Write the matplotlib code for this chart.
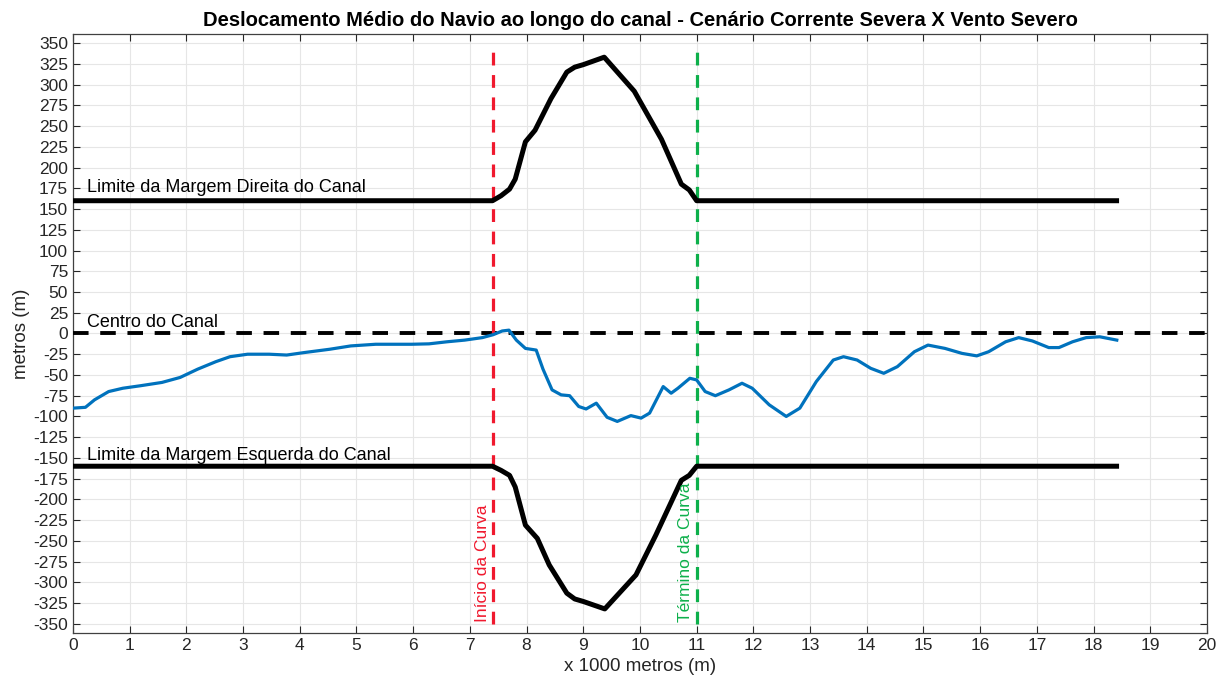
import numpy as np
import matplotlib.pyplot as plt

plt.rcParams['font.family'] = ['Liberation Sans', 'DejaVu Sans']
plt.rcParams['axes.unicode_minus'] = False

# --- data ---
x_curve_start = 7.4
x_curve_end = 11.0

# right bank (upper channel limit), x in thousands of metres
upper_x = [0.0, 7.4, 7.55, 7.7, 7.8, 7.98, 8.15, 8.43, 8.71, 8.85, 9.0, 9.37,
           9.9, 10.38, 10.73, 10.87, 11.0, 18.45]
upper_y = [160, 160, 166, 174, 186, 231, 245, 283, 315, 321, 324, 333,
           292, 234, 180, 173, 160, 160]

# left bank (lower channel limit)
lower_x = [0.0, 7.4, 7.55, 7.7, 7.8, 7.98, 8.19, 8.4, 8.71, 8.85, 9.0, 9.38,
           9.93, 10.28, 10.73, 10.87, 11.0, 18.45]
lower_y = [-160, -160, -165, -171, -185, -231, -247, -279, -313, -320, -323, -332,
           -291, -243, -177, -171, -160, -160]

# mean ship displacement
ship_x = [0.0, 0.22, 0.38, 0.63, 0.88, 1.19, 1.57, 1.89, 2.2, 2.52, 2.77, 3.08,
          3.46, 3.77, 4.08, 4.53, 4.9, 5.34, 5.97, 6.28, 6.6, 6.91, 7.22, 7.41,
          7.57, 7.69, 7.82, 7.98, 8.17, 8.29, 8.45, 8.61, 8.76, 8.92, 9.05, 9.23,
          9.42, 9.6, 9.84, 10.02, 10.17, 10.41, 10.55, 10.67, 10.88, 11.0, 11.15,
          11.33, 11.57, 11.8, 11.98, 12.28, 12.58, 12.82, 13.11, 13.41, 13.59,
          13.83, 14.07, 14.3, 14.54, 14.84, 15.08, 15.38, 15.68, 15.94, 16.15,
          16.45, 16.68, 16.92, 17.21, 17.39, 17.63, 17.87, 18.11, 18.41]
ship_y = [-90, -89, -80, -70, -66, -63, -59, -53, -43, -34, -28, -25,
          -25, -26, -23, -19, -15, -13, -13, -12.5, -10, -8, -5, -1.5,
          3, 4, -8, -18, -20, -43, -68, -74, -75, -88, -91, -84,
          -101, -106, -99, -102, -96, -64, -72, -66, -54, -56, -70,
          -75, -68, -60, -66, -86, -100, -90, -58, -32, -28,
          -32, -42, -48, -40, -22, -14, -18, -24, -27, -22,
          -10, -5, -9, -17, -17, -10, -5, -4, -8]

x_ticks = np.arange(0, 21, 1)
y_ticks = np.arange(-350, 351, 25)

fig = plt.figure(figsize=(12.2, 6.93), dpi=100)
ax = fig.add_axes([0.0598, 0.0866, 0.9295, 0.8644])

ax.grid(True, color='#e6e6e6', linewidth=0.8, zorder=0)
ax.set_axisbelow(True)

ax.plot(upper_x, upper_y, color='black', linewidth=3.6, solid_capstyle='butt', zorder=4)
ax.plot(lower_x, lower_y, color='black', linewidth=3.6, solid_capstyle='butt', zorder=4)
ax.axhline(0, color='black', linewidth=2.8, linestyle=(0, (4, 3)), zorder=3)
ax.plot(ship_x, ship_y, color='#0072BD', linewidth=2.3, solid_joinstyle='round', zorder=5)

ax.plot([x_curve_start, x_curve_start], [-350, 340], color='#F0192E',
        linewidth=2.3, linestyle=(0, (4, 3)), zorder=3)
ax.plot([x_curve_end, x_curve_end], [-350, 340], color='#0DB04B',
        linewidth=2.3, linestyle=(0, (4, 3)), zorder=3)

ax.text(7.22, -348, 'Início da Curva', rotation=90, color='#F0192E',
        fontsize=12.5, ha='center', va='bottom', zorder=6)
ax.text(10.8, -348, 'Término da Curva', rotation=90, color='#0DB04B',
        fontsize=12.5, ha='center', va='bottom', zorder=6)

ax.text(0.25, 176, 'Limite da Margem Direita do Canal', fontsize=13, va='center', zorder=6)
ax.text(0.25, 13, 'Centro do Canal', fontsize=13, va='center', zorder=6)
ax.text(0.25, -147, 'Limite da Margem Esquerda do Canal', fontsize=13, va='center', zorder=6)

ax.set_xlim(0, 20)
ax.set_ylim(-361, 361)
ax.set_xticks(x_ticks)
ax.set_yticks(y_ticks)
ax.tick_params(direction='in', top=True, right=True, length=5, width=0.8,
               labelsize=12.5, colors='#262626', labelcolor='#262626')
for s in ax.spines.values():
    s.set_color('#404040')
    s.set_linewidth(0.9)

ax.set_xlabel('x 1000 metros (m)', fontsize=13.5, color='#262626', labelpad=4)
ax.set_ylabel('metros (m)', fontsize=13.5, color='#262626', labelpad=2)
ax.set_title('Deslocamento Médio do Navio ao longo do canal - Cenário Corrente Severa X Vento Severo',
             fontsize=14.5, fontweight='bold', pad=6)

fig.savefig('out.png', dpi=100)
